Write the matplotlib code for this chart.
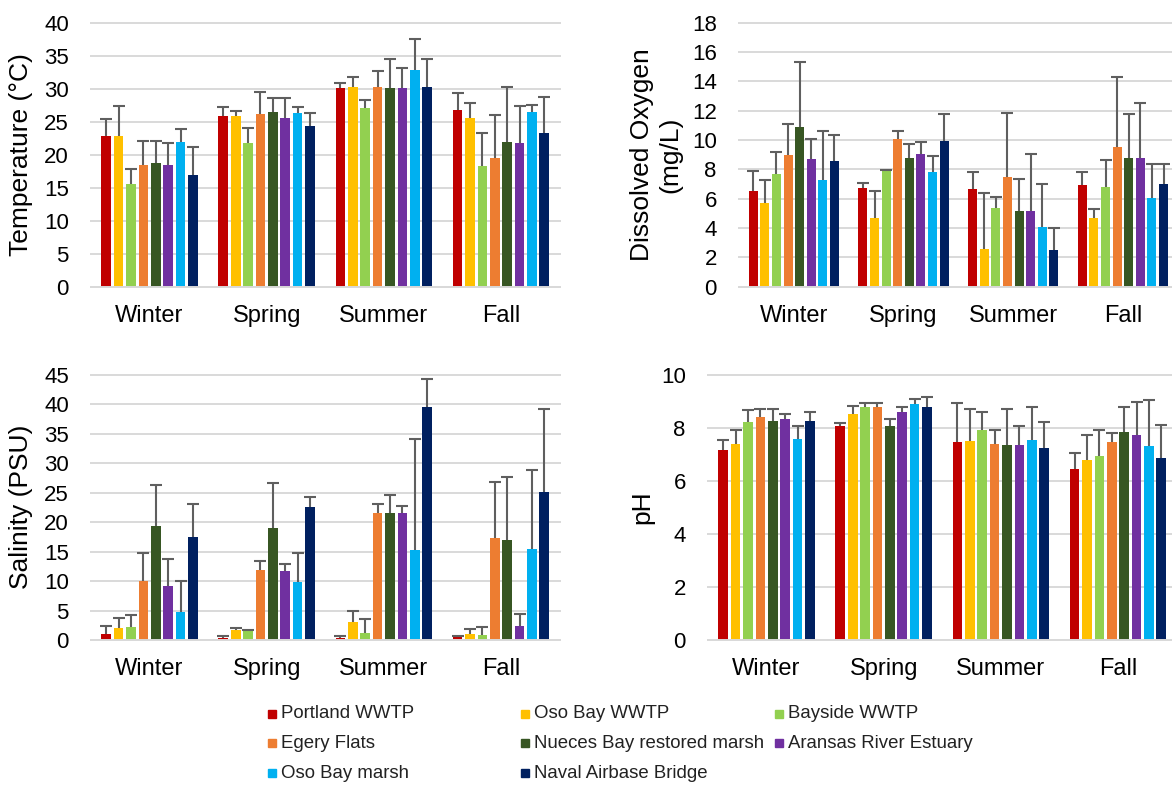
import matplotlib
matplotlib.use('Agg')
import matplotlib.pyplot as plt
from matplotlib.patches import Rectangle
import numpy as np

plt.rcParams['font.family'] = ['Liberation Sans', 'DejaVu Sans']

seasons = ['Winter', 'Spring', 'Summer', 'Fall']
sites = ['Portland WWTP', 'Oso Bay WWTP', 'Bayside WWTP', 'Egery Flats',
         'Nueces Bay restored marsh', 'Aransas River Estuary',
         'Oso Bay marsh', 'Naval Airbase Bridge']
site_colors = ['#C00000', '#FFC000', '#92D050', '#ED7D31',
               '#375623', '#7030A0', '#00B0F0', '#002060']

# rows = season, columns = site (mean, upper error = sd)
temp_mean = [[22.9, 22.8, 15.5, 18.5, 18.8, 18.4, 21.9, 16.9],
             [25.9, 25.9, 21.7, 26.2, 26.4, 25.5, 26.3, 24.4],
             [30.1, 30.2, 27.1, 30.3, 30.1, 30.1, 32.8, 30.3],
             [26.8, 25.6, 18.3, 19.5, 21.9, 21.8, 26.5, 23.3]]
temp_sd = [[2.5, 4.6, 2.3, 3.6, 3.2, 3.3, 2.0, 4.3],
           [1.3, 0.7, 2.4, 3.3, 2.2, 3.1, 0.9, 1.9],
           [0.8, 1.5, 1.2, 2.4, 4.4, 3.0, 4.7, 4.2],
           [2.5, 2.2, 5.0, 6.5, 8.4, 5.6, 1.1, 5.5]]

do_mean = [[6.5, 5.7, 7.7, 8.95, 10.9, 8.7, 7.3, 8.6],
           [6.75, 4.65, 7.9, 10.05, 8.8, 9.05, 7.8, 9.95],
           [6.65, 2.6, 5.35, 7.5, 5.15, 5.15, 4.1, 2.5],
           [6.95, 4.7, 6.8, 9.5, 8.75, 8.8, 6.05, 7.0]]
do_sd = [[1.4, 1.55, 1.5, 2.15, 4.4, 1.4, 3.35, 1.75],
         [0.35, 1.85, 0.05, 0.55, 0.9, 0.8, 1.1, 1.85],
         [1.2, 3.8, 0.75, 4.35, 2.2, 3.9, 2.9, 1.5],
         [0.9, 0.6, 1.85, 4.8, 3.05, 3.7, 2.35, 1.35]]

sal_mean = [[1.1, 2.1, 2.2, 10.0, 19.3, 9.1, 4.8, 17.5],
            [0.4, 1.65, 1.5, 11.9, 19.1, 11.7, 9.9, 22.6],
            [0.35, 3.0, 1.25, 21.5, 21.5, 21.5, 15.2, 39.6],
            [0.45, 1.1, 0.9, 17.4, 16.9, 2.35, 15.5, 25.1]]
sal_sd = [[1.2, 1.7, 2.1, 4.8, 7.1, 4.6, 5.3, 5.6],
          [0.35, 0.35, 0.15, 1.5, 7.6, 1.2, 4.9, 1.7],
          [0.25, 2.0, 2.35, 1.6, 3.2, 1.3, 18.9, 4.7],
          [0.15, 0.75, 1.3, 9.5, 10.7, 2.05, 13.3, 14.1]]

ph_mean = [[7.16, 7.40, 8.23, 8.40, 8.28, 8.35, 7.57, 8.27],
           [8.06, 8.54, 8.79, 8.78, 8.06, 8.59, 8.92, 8.80],
           [7.48, 7.52, 7.94, 7.41, 7.36, 7.36, 7.53, 7.25],
           [6.47, 6.81, 6.96, 7.49, 7.86, 7.72, 7.33, 6.87]]
ph_sd = [[0.38, 0.54, 0.45, 0.33, 0.45, 0.17, 0.49, 0.32],
         [0.14, 0.30, 0.16, 0.17, 0.28, 0.21, 0.16, 0.38],
         [1.46, 1.18, 0.66, 0.53, 1.34, 0.71, 1.25, 0.97],
         [0.57, 0.92, 0.96, 0.33, 0.95, 1.25, 1.71, 1.23]]

W, H = 1172, 785
fig = plt.figure(figsize=(W / 100, H / 100), dpi=100)


def px_axes(l, t, r, b):
    return fig.add_axes([l / W, 1 - b / H, (r - l) / W, (b - t) / H])


def draw_panel(ax, mean, sd, ymax, ystep):
    mean = np.array(mean)
    sd = np.array(sd)
    x = np.arange(len(seasons))
    pitch = 0.1058
    for i in range(len(sites)):
        xs = x + (i - 3.5) * pitch
        ax.bar(xs, mean[:, i], width=pitch * 0.78, color=site_colors[i], zorder=2)
        _, caps, _ = ax.errorbar(xs, mean[:, i], yerr=[np.zeros(4), sd[:, i]],
                                 fmt='none', ecolor='#5F5F5F', elinewidth=1.5,
                                 capsize=4.3, capthick=1.5, zorder=3)
        # only the upper cap, like the original
        caps[0].set_visible(False)
    ax.set_xlim(-0.5, 3.5)
    ax.set_ylim(0, ymax)
    ax.set_yticks(np.arange(0, ymax + 0.01, ystep))
    ax.set_xticks(x)
    ax.set_xticklabels(seasons, fontsize=17)
    ax.tick_params(axis='y', length=0, pad=16, labelsize=16)
    ax.tick_params(axis='x', length=0, pad=13)
    ax.yaxis.grid(True, color='#D9D9D9', linewidth=1.4)
    ax.set_axisbelow(True)
    for s in ['top', 'right', 'left']:
        ax.spines[s].set_visible(False)
    ax.spines['bottom'].set_color('#D9D9D9')
    ax.spines['bottom'].set_linewidth(1.4)
    for gl in ax.get_ygridlines():
        gl.set_clip_on(False)


ax1 = px_axes(91, 22.7, 559.5, 286.7)
draw_panel(ax1, temp_mean, temp_sd, 40, 5)
ax2 = px_axes(739, 22.7, 1177.8, 286.7)
draw_panel(ax2, do_mean, do_sd, 18, 2)
ax3 = px_axes(91, 375, 559.5, 640)
draw_panel(ax3, sal_mean, sal_sd, 45, 5)
ax4 = px_axes(708, 375, 1176.5, 640)
draw_panel(ax4, ph_mean, ph_sd, 10, 2)

# axis titles
fig.text(21 / W, 1 - 155 / H, 'Temperature (°C)', rotation=90, ha='center',
         va='center', fontsize=19)
fig.text(656 / W, 1 - 155 / H, 'Dissolved Oxygen\n(mg/L)', rotation=90,
         ha='center', va='center', fontsize=19, multialignment='center')
fig.text(21 / W, 1 - 507 / H, 'Salinity (PSU)', rotation=90, ha='center',
         va='center', fontsize=19)
fig.text(642 / W, 1 - 507 / H, 'pH', rotation=90, ha='center', va='center',
         fontsize=19)

# legend laid out in rows like the original
col_x = [268, 521, 775]
row_y = [714, 743, 773]
for i, name in enumerate(sites):
    cx = col_x[i % 3]
    cy = row_y[i // 3]
    fig.add_artist(Rectangle(((cx) / W, 1 - (cy + 4) / H), 8 / W, 8 / H,
                             transform=fig.transFigure, color=site_colors[i]))
    fig.text((cx + 13) / W, 1 - cy / H, name, ha='left', va='center',
             fontsize=13.4, color='#222222')

fig.savefig('out.png', dpi=100)
